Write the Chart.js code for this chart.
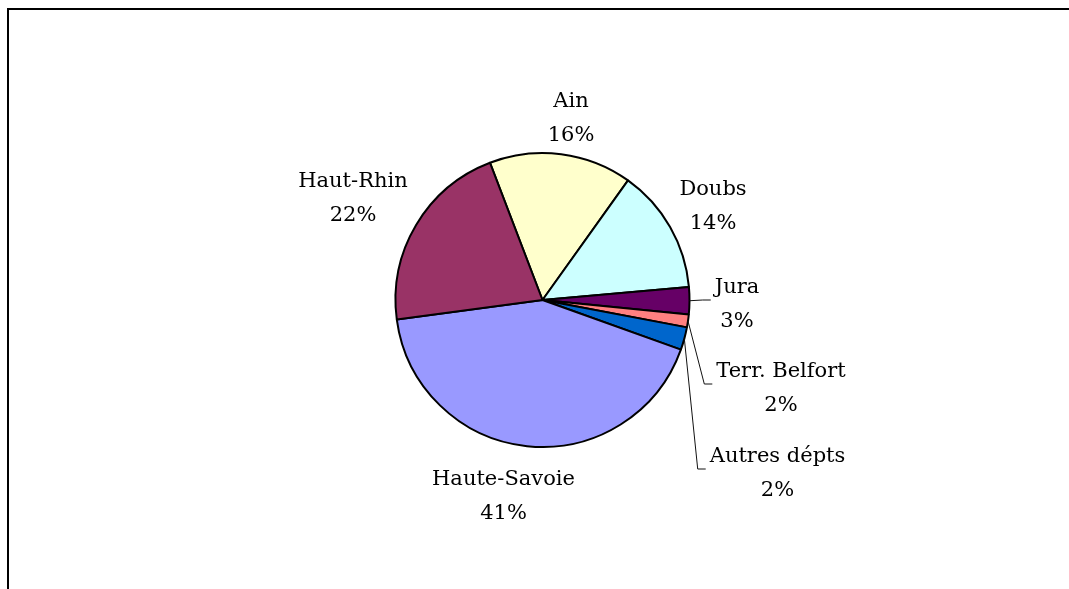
<!DOCTYPE html>
<html>
<head>
<meta charset="utf-8">
<script src="https://cdn.jsdelivr.net/npm/chart.js@4/dist/chart.umd.min.js"></script>
<style>
    html, body { margin: 0; padding: 0; background: #fff; overflow: hidden; }
    #wrap { position: relative; width: 1069px; height: 589px; }
    #frame {
        position: absolute; left: 7px; top: 8px; width: 1200px; height: 700px;
        border-top: 2px solid #000; border-left: 2px solid #000;
    }
    canvas { position: absolute; left: 0; top: 0; }
</style>
</head>
<body>
<div id="wrap">
    <div id="frame"></div>
    <canvas id="pie" width="1069" height="589"></canvas>
</div>
<script>
    // slices clockwise, starting with Ain
    const departments = ['Ain', 'Doubs', 'Jura', 'Terr. Belfort', 'Autres dépts', 'Haute-Savoie', 'Haut-Rhin'];
    const shares      = [15.7, 13.7, 3.0, 1.4, 2.5, 42.4, 21.3];
    const shareLabels = ['16%', '14%', '3%', '2%', '2%', '41%', '22%'];
    const sliceColors = ['#ffffcc', '#ccffff', '#660066', '#ff8080', '#0066cc', '#9999ff', '#993366'];

    // label placement, px from the pie centre: [centre x, first baseline], plus leader flag
    const labelLayout = [
        [28.5, -193], [170.5, -105], [194.5, -7, true], [238.5, 77, true],
        [235, 162, true], [-39, 185], [-189.5, -113],
    ];
    const FONT = '21px "DejaVu Serif"';
    const LINE = 34;

    const pieLabels = {
        id: 'pieLabels',
        afterDatasetsDraw(chart) {
            const ctx = chart.ctx;
            const arcs = chart.getDatasetMeta(0).data;
            ctx.save();
            ctx.font = FONT;
            ctx.fillStyle = '#000';
            ctx.textAlign = 'center';
            ctx.textBaseline = 'alphabetic';
            arcs.forEach((arc, i) => {
                const { x, y, startAngle, endAngle, outerRadius } =
                    arc.getProps(['x', 'y', 'startAngle', 'endAngle', 'outerRadius'], true);
                const [dx, b1, leader] = labelLayout[i];
                const cx = x + dx, by = y + b1;
                ctx.fillText(departments[i], cx, by);
                ctx.fillText(shareLabels[i], cx, by + LINE);
                if (leader) {
                    const w = Math.max(ctx.measureText(departments[i]).width, ctx.measureText(shareLabels[i]).width);
                    const left = cx - w / 2;
                    const mid = (startAngle + endAngle) / 2;
                    const ly = by + 7;
                    ctx.beginPath();
                    ctx.moveTo(x + Math.cos(mid) * outerRadius, y + Math.sin(mid) * outerRadius);
                    ctx.lineTo(left - 12, ly);
                    ctx.lineTo(left - 4, ly);
                    ctx.strokeStyle = '#111';
                    ctx.lineWidth = 1;
                    ctx.stroke();
                }
            });
            ctx.restore();
        }
    };

    new Chart(document.getElementById('pie'), {
        type: 'pie',
        data: {
            labels: departments,
            datasets: [{
                data: shares,
                backgroundColor: sliceColors,
                borderColor: '#000',
                borderWidth: 2,
            }]
        },
        options: {
            responsive: false,
            animation: false,
            rotation: -20.95,
            layout: { padding: { left: 394.5, right: 378.5, top: 152, bottom: 141 } },
            plugins: {
                legend: { display: false },
                tooltip: { enabled: false },
            }
        },
        plugins: [pieLabels]
    });
</script>
</body>
</html>
